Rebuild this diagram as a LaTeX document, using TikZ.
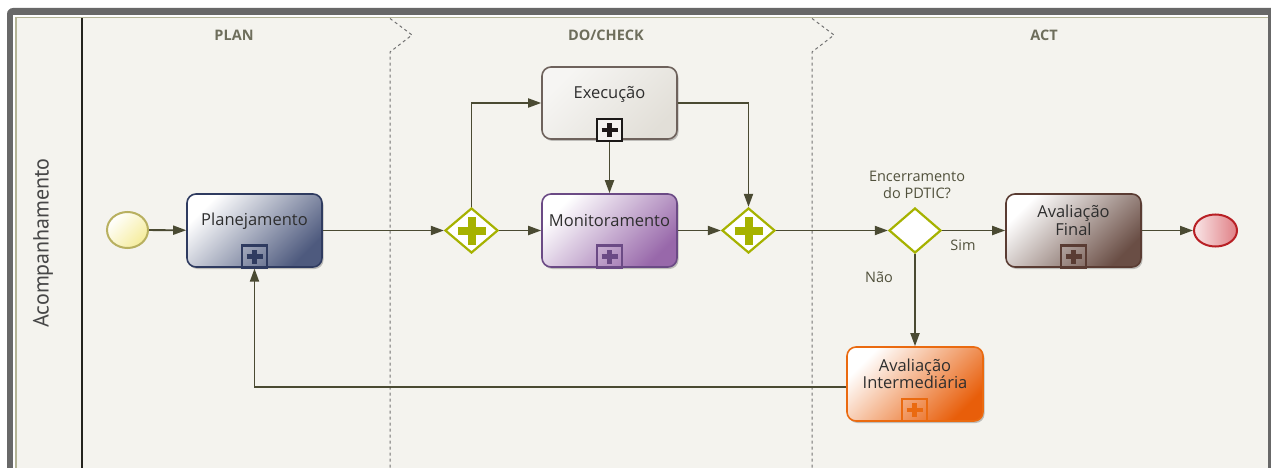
\documentclass[tikz,border=0pt]{standalone}
\usepackage{fontspec}
\setmainfont{Open Sans}
\newfontfamily\lanefont{PT Sans}
\usetikzlibrary{shapes.geometric,arrows.meta,shadows,calc}
\definecolor{framegray}{HTML}{686868}
\definecolor{bgc}{HTML}{F4F3EE}
\definecolor{olive}{HTML}{B4B496}
\definecolor{conn}{HTML}{4A4A32}
\definecolor{gwc}{HTML}{A6B200}
\definecolor{txt}{HTML}{2E2E2E}
\definecolor{phase}{HTML}{55553F}
\definecolor{planc}{HTML}{4E5A7E}
\definecolor{planb}{HTML}{2F3B60}
\definecolor{execc}{HTML}{E2DFD8}
\definecolor{execb}{HTML}{6E625C}
\definecolor{monc}{HTML}{9868AA}
\definecolor{monb}{HTML}{6B4A85}
\definecolor{finc}{HTML}{6A4E45}
\definecolor{finb}{HTML}{5A3C33}
\definecolor{intc}{HTML}{E85E0A}
\definecolor{intb}{HTML}{EA6A10}
\definecolor{startc}{HTML}{F5EC9A}
\definecolor{startb}{HTML}{B8B060}
\definecolor{endc}{HTML}{E07F85}
\definecolor{endb}{HTML}{B82025}
\begin{document}
\begin{tikzpicture}[x=1pt,y=-1pt,
  task/.style={rectangle, rounded corners=9pt, minimum width=135pt, minimum height=73pt,
    line width=1.6pt, inner sep=0pt,
    drop shadow={shadow xshift=1.5pt, shadow yshift=-2pt, opacity=0.22, fill=black}},
  tasktext/.style={font=\fontsize{16.5}{17.5}\selectfont, text=txt, align=center},
  marker/.style={rectangle, minimum width=25pt, minimum height=22pt, inner sep=0pt,
    line width=2.2pt, draw=#1,
    path picture={\draw[#1, line width=4.5pt]
      ([xshift=-8pt]path picture bounding box.center) -- ([xshift=8pt]path picture bounding box.center);
      \draw[#1, line width=4.5pt]
      ([yshift=-7pt]path picture bounding box.center) -- ([yshift=7pt]path picture bounding box.center);}},
  gate/.style={diamond, draw=gwc, fill=white, line width=2.2pt, minimum width=53pt,
    minimum height=45pt, inner sep=0pt},
  gplus/.style={path picture={\draw[gwc, line width=8pt]
      ([xshift=-14pt]path picture bounding box.center) -- ([xshift=14pt]path picture bounding box.center);
      \draw[gwc, line width=8pt]
      ([yshift=-14pt]path picture bounding box.center) -- ([yshift=14pt]path picture bounding box.center);}},
  conn/.style={draw=conn, line width=1.8pt, -{Triangle[length=13pt, width=9pt]}},
  phaselbl/.style={font=\fontsize{14.5}{16}\selectfont\bfseries, text=phase!85},
  lbl/.style={font=\fontsize{14.5}{17}\selectfont, text=phase!95!black, align=center},
  sep/.style={draw=black!55, dashed, line width=1pt}
]
\useasboundingbox (0,0) rectangle (1271,468);
\clip (0,0) rectangle (1271,468);
% frame
\fill[framegray, rounded corners=6pt] (7,8) rectangle (1290,490);
\fill[white!95!bgc] (13,15) rectangle (1268,490);
\fill[olive] (15,17) rectangle (1268,490);
\fill[bgc] (16.5,18.5) rectangle (1268,490);
% lane header separator
\draw[draw=black!80!olive, line width=1.3pt] (82,18.5) -- (82,468);
\node[rotate=90, font=\lanefont\fontsize{22}{24}\selectfont, text=black!72] (lane) at (43,243) {Acompanhamento};
% phase separators
\draw[sep] (390,18.5) -- (412,35) -- (390,52) -- (390,468);
\draw[sep] (812,18.5) -- (834,35) -- (812,52) -- (812,468);
\node[phaselbl] (pplan) at (234,35) {PLAN};
\node[phaselbl] (pdo) at (606,35) {DO/CHECK};
\node[phaselbl] (pact) at (1044,35) {ACT};

% events
\node[ellipse, minimum width=41pt, minimum height=36pt, inner sep=0pt, line width=2pt, draw=startb,
  top color=white, bottom color=startc, shading angle=45] (start) at (127.5,230) {};
\node[ellipse, minimum width=43pt, minimum height=32pt, inner sep=0pt, line width=2pt, draw=endb,
  left color=endc!20, right color=endc] (endev) at (1215.5,230.5) {};

% tasks
\node[task, draw=planb, top color=white, bottom color=planc, shading angle=45,
  label={[tasktext, yshift=9.5pt]center:Planejamento}] (plan) at (254.5,230.5) {};
\node[marker=planb] (planm) at (254.5,256.5) {};

\node[task, draw=execb, top color=white!70!execc, bottom color=execc, shading angle=45,
  minimum height=72pt, label={[tasktext, yshift=9pt]center:Execução}] (exec) at (609.5,103) {};
\node[marker=black!75!execb, fill=white!60!execc] (execm) at (609.5,130) {};

\node[task, draw=monb, top color=white, bottom color=monc, shading angle=45,
  label={[tasktext, yshift=9.5pt]center:Monitoramento}] (monit) at (609.5,230.5) {};
\node[marker=monb] (monitm) at (609.5,256.5) {};

\node[task, draw=finb, top color=white, bottom color=finc, shading angle=45,
  label={[tasktext, yshift=10pt]center:Avaliação\\Final}] (final) at (1073.5,230.5) {};
\node[marker=finb] (finalm) at (1073.5,256.5) {};

\node[task, draw=intb, top color=white, bottom color=intc, shading angle=45, minimum width=136pt,
  minimum height=74pt, label={[tasktext, yshift=10pt]center:Avaliação\\Intermediária}] (interm) at (915,384) {};
\node[marker=intb] (intermm) at (914.5,410) {};

% gateways
\node[gate, gplus] (g1) at (471.5,230.5) {};
\node[gate, gplus] (g2) at (748.5,230.5) {};
\node[gate, minimum width=52pt] (dec) at (915,230.5) {};

\node[lbl] (q) at (917,185) {Encerramento\\do PDTIC?};
\node[lbl] (sim) at (963,245) {Sim};
\node[lbl] (nao) at (879,277) {Não};

% connectors
\draw[conn] (start) -- (plan);
\draw[conn] (plan) -- (g1);
\draw[conn] (g1.north) |- (exec.west);
\draw[conn] (g1) -- (monit);
\draw[conn] (execm.south) -- (monit.north);
\draw[conn] (exec.east) -| (g2.north);
\draw[conn] (monit) -- (g2);
\draw[conn] (g2) -- (dec);
\draw[conn] (dec) -- (final);
\draw[conn] (dec.south) -- (interm.north);
\draw[conn] (final) -- (endev);
\draw[conn] ($(interm.west)+(0,3)$) -| (planm.south);
\end{tikzpicture}
\end{document}
